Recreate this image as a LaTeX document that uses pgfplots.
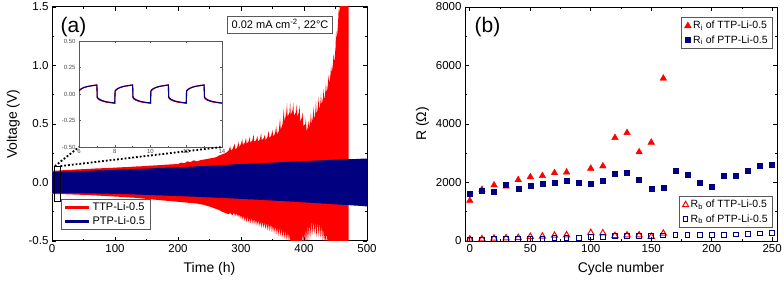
\documentclass[border=0pt]{standalone}
\usepackage{pgfplots}
\pgfplotsset{compat=1.18}
\usepackage{fontspec}
\setmainfont{Liberation Sans}
\definecolor{navy}{RGB}{0,0,128}
\definecolor{myred}{RGB}{255,0,0}
\pgfplotsset{
  mystyle/.style={
    scale only axis,
    axis line style={line width=1pt},
    tick align=inside,
    major tick length=4pt,
    minor tick length=2.2pt,
    every tick/.style={black, line width=0.8pt},
    tick label style={font=\fontsize{11.5}{13}\selectfont},
    label style={font=\fontsize{14}{16}\selectfont},
    /pgf/number format/assume math mode=true,
  }
}
\begin{document}
\begin{tikzpicture}
\useasboundingbox (0,0) rectangle (784pt,282pt);
% ---------------- panel (a)
\begin{axis}[mystyle,
  at={(52pt,41pt)}, anchor=south west,
  width=315pt, height=234pt,
  xmin=0, xmax=500, ymin=-0.5, ymax=1.5,
  xtick={0,100,...,500}, ytick={-0.5,0,0.5,1,1.5},
  minor x tick num=1, minor y tick num=1,
  yticklabel style={/pgf/number format/.cd, fixed, fixed zerofill, precision=1},
  xlabel={Time (h)}, ylabel={Voltage (V)},
  xlabel style={yshift=-3pt},
  ylabel style={yshift=2pt},
  legend style={at={(0.029,0.047)}, anchor=south west, draw=gray!70!black,
    line width=0.6pt, font=\fontsize{11}{12}\selectfont,
    inner xsep=3pt, inner ysep=1.5pt, row sep=0.5pt},
  legend cell align=left,
  legend image code/.code={\draw[#1, line width=2.1pt] (0pt,0pt) -- (24pt,0pt);},
]
\addplot[myred] coordinates {(-100,-5)(-90,-5)};
\addlegendentry{TTP-Li-0.5}
\addplot[navy] coordinates {(-100,-5)(-90,-5)};
\addlegendentry{PTP-Li-0.5}
\addplot[fill=myred, draw=none, forget plot] coordinates {
(0,0.10)(10,0.102)(20,0.106)(30,0.108)(40,0.112)(50,0.114)(60,0.117)(70,0.12)(80,0.122)(90,0.124)(100,0.127)(110,0.13)(120,0.132)(130,0.136)(140,0.138)(150,0.142)(160,0.145)(170,0.148)(180,0.152)(190,0.155)(200,0.158)(205,0.17)(210,0.165)(215,0.18)(220,0.175)(225,0.19)(230,0.18)(235,0.19)(240,0.195)(245,0.2)(250,0.205)(255,0.21)(260,0.215)(265,0.23)(270,0.24)(275,0.25)(280,0.27)(283,0.31)(284,0.27)(287,0.29)(290,0.33)(291,0.28)(294,0.3)(296,0.35)(297,0.3)(300,0.33)(302,0.37)(303,0.32)(306,0.34)(308,0.38)(309,0.33)(312,0.35)(314,0.39)(315,0.34)(318,0.36)(320,0.41)(321,0.35)(324,0.36)(326,0.4)(327,0.35)(330,0.37)(332,0.42)(333,0.36)(336,0.38)(338,0.41)(339,0.36)(342,0.39)(344,0.44)(345,0.38)(348,0.4)(350,0.45)(351,0.39)(354,0.42)(356,0.48)(357,0.41)(360,0.44)(362,0.55)(363,0.45)(366,0.5)(368,0.63)(369,0.52)(372,0.6)(373,0.68)(374,0.56)(377,0.6)(378,0.69)(379,0.58)(382,0.62)(383,0.68)(384,0.57)(387,0.6)(388,0.67)(389,0.56)(392,0.6)(393,0.66)(394,0.52)(397,0.56)(398,0.6)(399,0.48)(402,0.5)(403,0.55)(404,0.44)(406,0.47)(407,0.53)(408,0.47)(410,0.52)(411,0.6)(412,0.5)(414,0.56)(415,0.65)(416,0.54)(418,0.6)(419,0.7)(420,0.58)(422,0.64)(423,0.73)(424,0.62)(426,0.68)(427,0.76)(428,0.66)(430,0.72)(431,0.8)(432,0.7)(434,0.78)(435,0.85)(436,0.76)(438,0.84)(439,0.92)(440,0.84)(442,0.92)(443,1.0)(444,0.93)(446,1.02)(447,1.1)(448,1.02)(450,1.15)(451,1.3)(452,1.22)(454,1.35)(455,1.48)(456,1.45)(458,1.6)(471,1.6)
(471,-0.6)(440,-0.6)(439,-0.45)(438,-0.56)(436,-0.42)(435,-0.55)(433,-0.44)(432,-0.52)(430,-0.38)(429,-0.5)(427,-0.36)(426,-0.48)(424,-0.34)(423,-0.46)(421,-0.33)(420,-0.47)(418,-0.34)(417,-0.44)(415,-0.32)(414,-0.45)(412,-0.33)(411,-0.48)(409,-0.35)(408,-0.5)(406,-0.36)(405,-0.55)(403,-0.38)(402,-0.55)(400,-0.42)(399,-0.55)(397,-0.44)(396,-0.55)(380,-0.55)(379,-0.46)(378,-0.52)(376,-0.43)(375,-0.5)(373,-0.42)(372,-0.49)(370,-0.41)(369,-0.48)(367,-0.4)(366,-0.47)(364,-0.39)(363,-0.46)(361,-0.38)(360,-0.46)(358,-0.38)(357,-0.45)(355,-0.37)(354,-0.44)(352,-0.37)(351,-0.43)(349,-0.36)(348,-0.42)(346,-0.35)(345,-0.42)(343,-0.35)(342,-0.41)(340,-0.34)(339,-0.4)(337,-0.34)(336,-0.39)(334,-0.33)(333,-0.39)(331,-0.33)(330,-0.38)(328,-0.32)(327,-0.37)(325,-0.32)(324,-0.37)(322,-0.31)(321,-0.36)(319,-0.31)(318,-0.35)(316,-0.3)(315,-0.35)(313,-0.3)(312,-0.34)(310,-0.29)(309,-0.34)(307,-0.29)(306,-0.33)(304,-0.28)(303,-0.32)(301,-0.28)(300,-0.31)(298,-0.27)(297,-0.3)(295,-0.27)(294,-0.29)(292,-0.26)(291,-0.29)(289,-0.26)(286,-0.28)(283,-0.26)(280,-0.27)(275,-0.26)(270,-0.25)(265,-0.235)(260,-0.225)(255,-0.215)(250,-0.205)(240,-0.19)(230,-0.18)(220,-0.175)(210,-0.17)(200,-0.165)(190,-0.16)(180,-0.155)(170,-0.15)(160,-0.145)(150,-0.14)(140,-0.135)(130,-0.13)(120,-0.127)(110,-0.123)(100,-0.12)(90,-0.117)(80,-0.114)(70,-0.111)(60,-0.108)(50,-0.106)(40,-0.104)(30,-0.102)(20,-0.1)(10,-0.099)(0,-0.098)
};
\addplot[fill=navy, draw=none, forget plot] coordinates {
(0,0.088)(10,0.092)(20,0.094)(30,0.093)(40,0.097)(50,0.099)(60,0.1)(70,0.103)(80,0.104)(90,0.106)(100,0.108)(110,0.111)(120,0.112)(130,0.115)(140,0.117)(150,0.119)(160,0.121)(170,0.124)(180,0.126)(190,0.128)(200,0.131)(210,0.133)(220,0.135)(230,0.139)(240,0.14)(250,0.143)(260,0.147)(270,0.149)(280,0.152)(290,0.156)(300,0.158)(310,0.16)(320,0.163)(330,0.165)(340,0.168)(350,0.17)(360,0.173)(370,0.175)(380,0.178)(390,0.18)(400,0.183)(410,0.185)(420,0.188)(430,0.19)(440,0.193)(450,0.195)(460,0.198)(470,0.2)(480,0.2)(490,0.203)(500,0.205)
(500,-0.205)(490,-0.2)(480,-0.197)(470,-0.193)(460,-0.19)(450,-0.187)(440,-0.183)(430,-0.18)(420,-0.176)(410,-0.173)(400,-0.17)(390,-0.166)(380,-0.163)(370,-0.16)(360,-0.157)(350,-0.154)(340,-0.151)(330,-0.148)(320,-0.145)(310,-0.143)(300,-0.14)(290,-0.137)(280,-0.135)(270,-0.132)(260,-0.13)(250,-0.127)(240,-0.125)(230,-0.122)(220,-0.12)(210,-0.118)(200,-0.116)(190,-0.114)(180,-0.112)(170,-0.11)(160,-0.108)(150,-0.106)(140,-0.104)(130,-0.102)(120,-0.1)(110,-0.099)(100,-0.097)(90,-0.096)(80,-0.095)(70,-0.094)(60,-0.093)(50,-0.092)(40,-0.091)(30,-0.09)(20,-0.09)(10,-0.089)(0,-0.088)
};
\node[font=\fontsize{21}{24}\selectfont] at (rel axis cs:0.068,0.915) {(a)};
\node[draw=gray!70!black, line width=0.6pt, fill=white, inner xsep=4pt, inner ysep=3pt,
  font=\fontsize{11}{12}\selectfont] at (axis cs:362,1.348) {0.02 mA cm\textsuperscript{-2}, 22°C};
\draw[line width=1.2pt] (axis cs:4.5,-0.16) rectangle (axis cs:13.5,0.14);
\coordinate (rtl) at (axis cs:4.5,0.14);
\coordinate (rtr) at (axis cs:13.5,0.14);
\end{axis}
% ---------------- inset
\begin{axis}[name=inset,
  scale only axis,
  at={(79pt,135pt)}, anchor=south west,
  width=143pt, height=106pt,
  xmin=6, xmax=14, ymin=-0.5, ymax=0.5,
  xtick={6,8,...,14}, ytick={-0.5,-0.25,0,0.25,0.5},
  minor x tick num=1,
  axis background/.style={fill=white},
  axis line style={gray!70!black, line width=0.5pt},
  tick align=inside, major tick length=2pt, minor tick length=1.2pt,
  every tick/.style={gray!70!black, line width=0.4pt},
  tick label style={font=\fontsize{6}{7}\selectfont, text=gray!60!black},
  /pgf/number format/assume math mode=true,
  yticklabel style={/pgf/number format/.cd, fixed, fixed zerofill, precision=2},
  xticklabel style={yshift=1pt},
]
\addplot[myred, line width=1.1pt] coordinates {
(6,0.025)(6.05,0.036)(6.15,0.05)(6.3,0.062)(6.5,0.071)(6.75,0.079)(7,0.085)
(7.02,-0.035)(7.07,-0.047)(7.17,-0.058)(7.32,-0.068)(7.5,-0.076)(7.75,-0.082)(8,-0.088)
(8.02,0.025)(8.07,0.036)(8.17,0.05)(8.32,0.062)(8.5,0.071)(8.75,0.079)(9,0.085)
(9.02,-0.035)(9.07,-0.047)(9.17,-0.058)(9.32,-0.068)(9.5,-0.076)(9.75,-0.082)(10,-0.088)
(10.02,0.025)(10.07,0.036)(10.17,0.05)(10.32,0.062)(10.5,0.071)(10.75,0.079)(11,0.085)
(11.02,-0.035)(11.07,-0.047)(11.17,-0.058)(11.32,-0.068)(11.5,-0.076)(11.75,-0.082)(12,-0.088)
(12.02,0.025)(12.07,0.036)(12.17,0.05)(12.32,0.062)(12.5,0.071)(12.75,0.079)(13,0.085)
(13.02,-0.035)(13.07,-0.047)(13.17,-0.058)(13.32,-0.068)(13.5,-0.076)(13.75,-0.082)(14,-0.088)
};
\addplot[navy, line width=1.1pt] coordinates {
(6,0.030)(6.05,0.040)(6.15,0.052)(6.3,0.063)(6.5,0.072)(6.75,0.079)(7,0.085)
(7.02,-0.030)(7.07,-0.040)(7.17,-0.052)(7.32,-0.063)(7.5,-0.072)(7.75,-0.079)(8,-0.085)
(8.02,0.030)(8.07,0.040)(8.17,0.052)(8.32,0.063)(8.5,0.072)(8.75,0.079)(9,0.085)
(9.02,-0.030)(9.07,-0.040)(9.17,-0.052)(9.32,-0.063)(9.5,-0.072)(9.75,-0.079)(10,-0.085)
(10.02,0.030)(10.07,0.040)(10.17,0.052)(10.32,0.063)(10.5,0.072)(10.75,0.079)(11,0.085)
(11.02,-0.030)(11.07,-0.040)(11.17,-0.052)(11.32,-0.063)(11.5,-0.072)(11.75,-0.079)(12,-0.085)
(12.02,0.030)(12.07,0.040)(12.17,0.052)(12.32,0.063)(12.5,0.072)(12.75,0.079)(13,0.085)
(13.02,-0.030)(13.07,-0.040)(13.17,-0.052)(13.32,-0.063)(13.5,-0.072)(13.75,-0.079)(14,-0.085)
};
\end{axis}
\draw[line width=1.8pt, dash pattern=on 1.8pt off 2pt] (rtl) -- (inset.south west);
\draw[line width=1.8pt, dash pattern=on 1.8pt off 2pt] (rtr) -- (inset.south east);
% ---------------- panel (b), Ri
\begin{axis}[mystyle,
  at={(465pt,41pt)}, anchor=south west,
  width=312pt, height=234pt,
  xmin=-4, xmax=254, ymin=0, ymax=8000,
  xtick={0,50,...,250}, ytick={0,2000,...,8000},
  minor x tick num=1, minor y tick num=1,
  scaled y ticks=false,
  yticklabel style={/pgf/number format/.cd, fixed, 1000 sep={}},
  xlabel={Cycle number}, ylabel={R (Ω)},
  xlabel style={yshift=-3pt},
  legend style={at={(0.987,0.957)}, anchor=north east, draw=gray!70!black,
    line width=0.6pt, font=\fontsize{10.5}{12}\selectfont,
    inner xsep=3pt, inner ysep=2pt, row sep=1pt},
  legend cell align=left,
]
\addplot[only marks, mark=triangle*, mark size=3.8pt, color=myred] coordinates {
(0,1380)(10,1760)(20,1910)(30,1870)(40,2090)(50,2190)(60,2230)(70,2330)(80,2350)(100,2480)(110,2560)(120,3530)(130,3700)(140,3040)(150,3370)(160,5560)
};
\addlegendentry{R\textsubscript{i} of TTP-Li-0.5}
\addplot[only marks, mark=square*, mark size=2.5pt, color=navy] coordinates {
(0,1630)(10,1720)(20,1675)(30,1915)(40,1780)(50,1890)(60,1950)(70,2005)(80,2050)(90,2005)(100,1960)(110,2065)(120,2310)(130,2335)(140,2110)(150,1790)(160,1815)(170,2395)(180,2280)(190,1985)(200,1845)(210,2235)(220,2235)(230,2415)(240,2565)(250,2610)
};
\addlegendentry{R\textsubscript{i} of PTP-Li-0.5}
\node[font=\fontsize{21}{24}\selectfont] at (rel axis cs:0.072,0.915) {(b)};
\end{axis}
% ---------------- panel (b), Rb
\begin{axis}[
  scale only axis, hide axis,
  at={(465pt,41pt)}, anchor=south west,
  width=312pt, height=234pt,
  xmin=-4, xmax=254, ymin=0, ymax=8000,
  legend style={at={(0.987,0.056)}, anchor=south east, draw=gray!70!black,
    line width=0.6pt, font=\fontsize{10.5}{12}\selectfont,
    inner xsep=3pt, inner ysep=2pt, row sep=1pt},
  legend cell align=left,
]
\addplot[only marks, mark=triangle, mark size=3.6pt, color=myred, mark options={line width=1pt}] coordinates {
(0,60)(10,70)(20,90)(30,100)(40,110)(50,150)(60,160)(70,190)(80,200)(100,280)(110,270)(120,180)(130,200)(140,200)(150,150)(160,260)
};
\addlegendentry{R\textsubscript{b} of TTP-Li-0.5}
\addplot[only marks, mark=square, mark size=2.4pt, color=navy, mark options={line width=1pt}] coordinates {
(0,50)(10,50)(20,55)(30,60)(40,65)(50,70)(60,80)(70,90)(80,100)(90,110)(100,130)(110,150)(120,160)(130,170)(140,175)(150,180)(160,190)(170,195)(180,200)(190,205)(200,210)(210,215)(220,225)(230,250)(240,255)(250,260)
};
\addlegendentry{R\textsubscript{b} of PTP-Li-0.5}
\end{axis}
\end{tikzpicture}
\end{document}
